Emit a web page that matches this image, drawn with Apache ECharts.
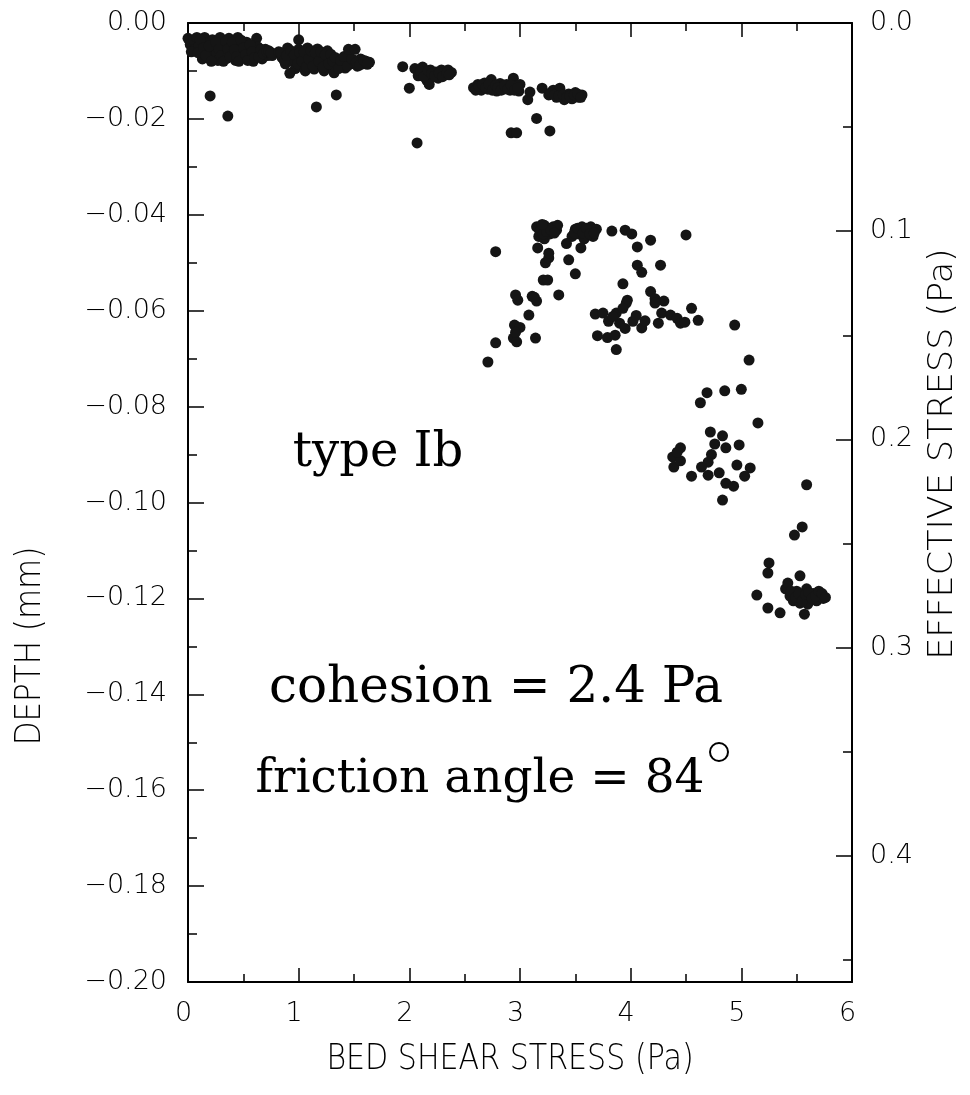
<!DOCTYPE html>
<html>
<head>
<meta charset="utf-8">
<script src="https://cdn.jsdelivr.net/npm/echarts@6/dist/echarts.min.js"></script>
<style>
html,body{margin:0;padding:0;background:#fff;}
#chart{width:970px;height:1095px;}
</style>
</head>
<body>
<div id="chart"></div>
<script>
// ---- Data (bed shear stress Pa, depth mm) ----
const band1 = [
  [0.00,-0.0032],[0.02,-0.0045],[0.05,-0.0035],[0.06,-0.0055],[0.08,-0.0030],[0.10,-0.0048],
  [0.12,-0.0065],[0.13,-0.0075],[0.15,-0.0030],[0.17,-0.0042],[0.18,-0.0058],[0.20,-0.0070],
  [0.22,-0.0035],[0.24,-0.0050],[0.26,-0.0063],[0.27,-0.0078],[0.29,-0.0030],[0.31,-0.0045],
  [0.33,-0.0060],[0.35,-0.0074],[0.37,-0.0032],[0.39,-0.0050],[0.41,-0.0066],[0.43,-0.0078],
  [0.45,-0.0030],[0.47,-0.0045],[0.49,-0.0060],[0.51,-0.0072],[0.53,-0.0040],[0.55,-0.0055],
  [0.57,-0.0068],[0.59,-0.0080],[0.62,-0.0032],[0.63,-0.0050],[0.65,-0.0062],[0.67,-0.0075],
  [0.70,-0.0055],[0.72,-0.0068],[0.74,-0.0060],[0.77,-0.0064],[1.00,-0.0035],
  [0.03,-0.0060],[0.09,-0.0062],[0.11,-0.0035],[0.14,-0.0052],[0.16,-0.0068],[0.19,-0.0048],
  [0.21,-0.0080],[0.25,-0.0040],[0.28,-0.0055],[0.30,-0.0068],[0.32,-0.0080],[0.34,-0.0038],
  [0.36,-0.0055],[0.38,-0.0070],[0.40,-0.0040],[0.42,-0.0056],[0.44,-0.0070],[0.46,-0.0080],
  [0.48,-0.0036],[0.50,-0.0052],[0.52,-0.0066],[0.54,-0.0078],[0.56,-0.0045],[0.58,-0.0060],
  [0.60,-0.0072],[0.64,-0.0070],[0.66,-0.0055],[0.68,-0.0064],[0.71,-0.0060],[0.73,-0.0058],
  [0.76,-0.0068],[0.75,-0.0062],
  [0.20,-0.0152],[0.36,-0.0194]
];
const band2 = [
  [0.82,-0.0060],[0.85,-0.0072],[0.88,-0.0085],[0.90,-0.0052],[0.92,-0.0068],[0.95,-0.0080],
  [0.97,-0.0095],[1.00,-0.0055],[1.02,-0.0070],[1.04,-0.0088],[1.06,-0.0100],[1.08,-0.0052],
  [1.10,-0.0066],[1.12,-0.0082],[1.14,-0.0096],[1.17,-0.0054],[1.19,-0.0070],[1.21,-0.0086],
  [1.23,-0.0100],[1.26,-0.0058],[1.28,-0.0074],[1.30,-0.0090],[1.32,-0.0104],[1.35,-0.0075],
  [1.37,-0.0088],[1.40,-0.0080],[1.42,-0.0094],[1.45,-0.0070],[1.47,-0.0085],[1.50,-0.0078],
  [1.53,-0.0090],[1.56,-0.0075],[1.58,-0.0085],[1.61,-0.0080],[1.64,-0.0082],[0.92,-0.0105],
  [0.84,-0.0062],[0.87,-0.0078],[0.89,-0.0068],[0.93,-0.0058],[0.96,-0.0066],[0.99,-0.0085],
  [1.01,-0.0062],[1.03,-0.0080],[1.05,-0.0060],[1.07,-0.0092],[1.09,-0.0075],[1.11,-0.0058],
  [1.13,-0.0090],[1.15,-0.0062],[1.18,-0.0080],[1.20,-0.0060],[1.22,-0.0092],[1.24,-0.0066],
  [1.27,-0.0085],[1.29,-0.0065],[1.31,-0.0080],[1.33,-0.0072],[1.36,-0.0095],[1.38,-0.0078],
  [1.41,-0.0070],[1.44,-0.0090],[1.48,-0.0075],[1.52,-0.0082],[1.55,-0.0088],[1.59,-0.0078],
  [1.62,-0.0086],
  [1.45,-0.0055],[1.51,-0.0055],[1.16,-0.0175],[1.34,-0.0150]
];
const band3 = [
  [1.94,-0.0091],[2.05,-0.0095],[2.08,-0.0110],[2.12,-0.0092],[2.14,-0.0105],[2.16,-0.0120],
  [2.19,-0.0098],[2.21,-0.0112],[2.24,-0.0102],[2.26,-0.0115],[2.29,-0.0098],[2.32,-0.0108],
  [2.35,-0.0098],[2.38,-0.0103],[2.18,-0.0128],[2.00,-0.0136],[2.07,-0.0250],
  [2.10,-0.0100],[2.13,-0.0112],[2.17,-0.0100],[2.20,-0.0105],[2.23,-0.0110],[2.27,-0.0104],
  [2.30,-0.0112],[2.34,-0.0104],[2.36,-0.0108]
];
const band4 = [
  [2.58,-0.0135],[2.62,-0.0128],[2.65,-0.0140],[2.68,-0.0125],[2.71,-0.0138],[2.74,-0.0118],
  [2.76,-0.0132],[2.79,-0.0142],[2.82,-0.0126],[2.85,-0.0138],[2.88,-0.0128],[2.91,-0.0140],
  [2.94,-0.0115],[2.96,-0.0132],[2.99,-0.0142],[3.00,-0.0128],[2.92,-0.0229],[2.97,-0.0229],
  [3.07,-0.0160],[3.09,-0.0144],[3.15,-0.0199],[3.20,-0.0136],[3.27,-0.0225],
  [3.26,-0.0150],[3.30,-0.0140],[3.33,-0.0155],[3.37,-0.0145],[3.40,-0.0160],[3.44,-0.0148],
  [3.47,-0.0158],[3.50,-0.0145],[3.53,-0.0155],[3.56,-0.0150],[3.36,-0.0136],
  [2.60,-0.0140],[2.63,-0.0132],[2.66,-0.0128],[2.69,-0.0135],[2.72,-0.0128],[2.75,-0.0140],
  [2.78,-0.0130],[2.80,-0.0135],[2.83,-0.0140],[2.86,-0.0130],[2.89,-0.0138],[2.92,-0.0130],
  [2.95,-0.0140],[2.98,-0.0135],[3.28,-0.0145],[3.31,-0.0150],[3.35,-0.0152],[3.39,-0.0150],
  [3.42,-0.0155],[3.45,-0.0152],[3.49,-0.0150],[3.52,-0.0148],[3.55,-0.0155]
];
const band5 = [
  [3.15,-0.0425],[3.19,-0.0430],[3.22,-0.0422],[3.26,-0.0428],[3.30,-0.0425],[3.33,-0.0432],
  [3.17,-0.0445],[3.22,-0.0450],[3.27,-0.0440],[3.34,-0.0422],
  [3.18,-0.0435],[3.21,-0.0440],[3.24,-0.0435],[3.28,-0.0432],[3.31,-0.0438],[3.20,-0.0420],
  [3.47,-0.0445],[3.50,-0.0430],[3.53,-0.0440],[3.56,-0.0425],[3.58,-0.0450],[3.61,-0.0435],
  [3.64,-0.0425],[3.66,-0.0445],[3.69,-0.0430],[3.42,-0.0460],[3.55,-0.0469],[3.44,-0.0494],
  [3.49,-0.0438],[3.52,-0.0428],[3.57,-0.0438],[3.60,-0.0428],[3.63,-0.0440],[3.67,-0.0438],
  [3.50,-0.0523],[3.83,-0.0434],[3.95,-0.0432],[4.01,-0.0440],[4.06,-0.0467],[4.06,-0.0505],
  [4.10,-0.0520],[3.93,-0.0544],[3.97,-0.0578],[4.18,-0.0453],[4.18,-0.0560],[4.22,-0.0575],
  [4.27,-0.0505],[4.30,-0.0580],[4.50,-0.0442],
  [2.78,-0.0477],[2.71,-0.0707],[2.78,-0.0667],[2.95,-0.0630],[3.00,-0.0635],[2.94,-0.0657],
  [2.97,-0.0665],[2.96,-0.0645],[2.96,-0.0567],[2.98,-0.0578],[3.11,-0.0570],[3.15,-0.0580],
  [3.13,-0.0572],[3.08,-0.0609],[3.14,-0.0657],[3.21,-0.0536],[3.25,-0.0536],[3.23,-0.0500],
  [3.26,-0.0490],[3.26,-0.0480],[3.16,-0.0469],[3.35,-0.0567]
];
const band6 = [
  [3.68,-0.0607],[3.70,-0.0652],[3.75,-0.0605],[3.79,-0.0656],[3.80,-0.0622],[3.86,-0.0651],
  [3.87,-0.0605],[3.87,-0.0681],[3.90,-0.0626],[3.95,-0.0637],[3.96,-0.0584],[4.02,-0.0622],
  [4.10,-0.0636],[4.13,-0.0621],[4.22,-0.0584],[4.25,-0.0626],[4.28,-0.0605],[4.36,-0.0609],
  [4.42,-0.0616],[4.45,-0.0626],[4.49,-0.0624],[4.55,-0.0595],[4.61,-0.0620],[4.94,-0.0630],
  [3.93,-0.0595],[3.84,-0.0612],[4.05,-0.0610]
];
const band7 = [
  [5.07,-0.0703],[4.63,-0.0792],[4.69,-0.0771],[4.85,-0.0767],[5.00,-0.0764],[5.15,-0.0834],
  [4.72,-0.0853],[4.83,-0.0861],[4.98,-0.0880],[4.76,-0.0878],[4.86,-0.0886],[4.73,-0.0900],
  [4.70,-0.0916],[4.64,-0.0926],[4.96,-0.0922],[5.08,-0.0928],[5.03,-0.0945],[4.38,-0.0905],
  [4.45,-0.0886],[4.39,-0.0926],[4.45,-0.0913],[4.42,-0.0895],[4.55,-0.0945],[4.70,-0.0943],
  [4.80,-0.0938],[4.86,-0.0960],[4.93,-0.0966],[4.83,-0.0995]
];
const band8 = [
  [5.59,-0.0963],[5.55,-0.1051],[5.48,-0.1068],[5.25,-0.1126],[5.24,-0.1147],[5.53,-0.1153],
  [5.40,-0.1180],[5.44,-0.1195],[5.47,-0.1205],[5.50,-0.1185],[5.53,-0.1210],[5.56,-0.1195],
  [5.59,-0.1180],[5.62,-0.1200],[5.65,-0.1190],[5.68,-0.1205],[5.71,-0.1195],[5.74,-0.1200],
  [5.42,-0.1168],[5.60,-0.1212],[5.14,-0.1193],[5.24,-0.1220],[5.35,-0.1230],[5.57,-0.1233],
  [5.45,-0.1185],[5.49,-0.1198],[5.52,-0.1190],[5.55,-0.1205],[5.58,-0.1192],[5.61,-0.1188],
  [5.64,-0.1200],[5.67,-0.1195],[5.70,-0.1185],[5.73,-0.1190],[5.76,-0.1198]
];
const annotations = ['type Ib', 'cohesion = 2.4 Pa', 'friction angle = 84'];
const xName = 'BED SHEAR STRESS (Pa)';
const yName = 'DEPTH (mm)';
const y2Name = 'EFFECTIVE STRESS (Pa)';

const allPoints = [].concat(band1, band2, band3, band4, band5, band6, band7, band8);

const chart = echarts.init(document.getElementById('chart'), null, {renderer: 'canvas'});
const numFont = 'DejaVu Sans';
const axisLineStyle = {color: '#000', width: 2};
const tickStyle = {color: '#000', width: 1.5};
const titleFont = '"DejaVu Sans", sans-serif';

const option = {
  backgroundColor: '#fff',
  animation: false,
  grid: {left: 188, right: 118, top: 23, bottom: 113},
  xAxis: [{
    type: 'value', min: 0, max: 6, interval: 1, position: 'bottom',
    axisLine: {show: true, onZero: false, lineStyle: axisLineStyle},
    axisTick: {show: true, inside: true, length: 14, lineStyle: tickStyle},
    minorTick: {show: true, splitNumber: 2, length: 8, lineStyle: tickStyle},
    splitLine: {show: false},
    axisLabel: {fontFamily: numFont, fontWeight: 200, fontSize: 27, color: '#000', margin: 18, padding: [0, 9, 0, 0]}
  }, {
    type: 'value', min: 0, max: 6, interval: 1, position: 'top',
    axisLine: {show: true, onZero: false, lineStyle: axisLineStyle},
    axisTick: {show: true, inside: true, length: 14, lineStyle: tickStyle},
    minorTick: {show: true, splitNumber: 2, length: 8, lineStyle: tickStyle},
    splitLine: {show: false},
    axisLabel: {show: false}
  }],
  yAxis: [{
    type: 'value', min: -0.2, max: 0, interval: 0.02, position: 'left',
    axisLine: {show: true, onZero: false, lineStyle: axisLineStyle},
    axisTick: {show: true, inside: true, length: 16, lineStyle: tickStyle},
    minorTick: {show: true, splitNumber: 2, length: 9, lineStyle: tickStyle},
    splitLine: {show: false},
    axisLabel: {
      fontFamily: numFont, fontWeight: 200, fontSize: 27, color: '#000', margin: 21,
      formatter: v => (Math.abs(v) < 1e-9 ? '0.00' : '\u2212' + Math.abs(v).toFixed(2))
    }
  }, {
    type: 'value', min: 0, max: 0.4606, interval: 0.1, position: 'right', inverse: true,
    axisLine: {show: true, onZero: false, lineStyle: axisLineStyle},
    axisTick: {show: true, inside: true, length: 16, lineStyle: tickStyle},
    minorTick: {show: true, splitNumber: 2, length: 9, lineStyle: tickStyle},
    splitLine: {show: false},
    axisLabel: {
      fontFamily: numFont, fontWeight: 200, fontSize: 27, color: '#000', margin: 18, showMaxLabel: false,
      formatter: v => (Math.abs(v * 10 - Math.round(v * 10)) < 1e-6 && v < 0.45 ? v.toFixed(1) : '')
    }
  }],
  series: [{
    type: 'scatter', xAxisIndex: 0, yAxisIndex: 0,
    data: allPoints,
    symbol: 'circle', symbolSize: 11,
    itemStyle: {color: '#151515', opacity: 1}
  }],
  graphic: [
    {type: 'text', x: 510, y: 1060, scaleX: 0.86, style: {text: xName, font: '200 35px ' + titleFont, fill: '#000', align: 'center', verticalAlign: 'middle'}},
    {type: 'text', x: 31, y: 646, rotation: Math.PI / 2, scaleX: 0.86, style: {text: yName, font: '200 36px ' + titleFont, fill: '#000', align: 'center', verticalAlign: 'middle'}},
    {type: 'text', x: 943, y: 454, rotation: Math.PI / 2, scaleX: 1.06, style: {text: y2Name, font: '200 33px ' + titleFont, fill: '#000', align: 'center', verticalAlign: 'middle'}},
    {type: 'text', x: 378, y: 454, style: {text: annotations[0], font: '48px "DejaVu Serif", serif', fill: '#000', align: 'center', verticalAlign: 'middle'}},
    {type: 'text', x: 496, y: 689, style: {text: annotations[1], font: '50px "DejaVu Serif", serif', fill: '#000', align: 'center', verticalAlign: 'middle'}},
    {type: 'text', x: 480, y: 780, style: {text: annotations[2], font: '47px "DejaVu Serif", serif', fill: '#000', align: 'center', verticalAlign: 'middle'}},
    {type: 'circle', shape: {cx: 719, cy: 752, r: 9}, style: {fill: 'none', stroke: '#000', lineWidth: 2}}
  ]
};
chart.setOption(option);
</script>
</body>
</html>
